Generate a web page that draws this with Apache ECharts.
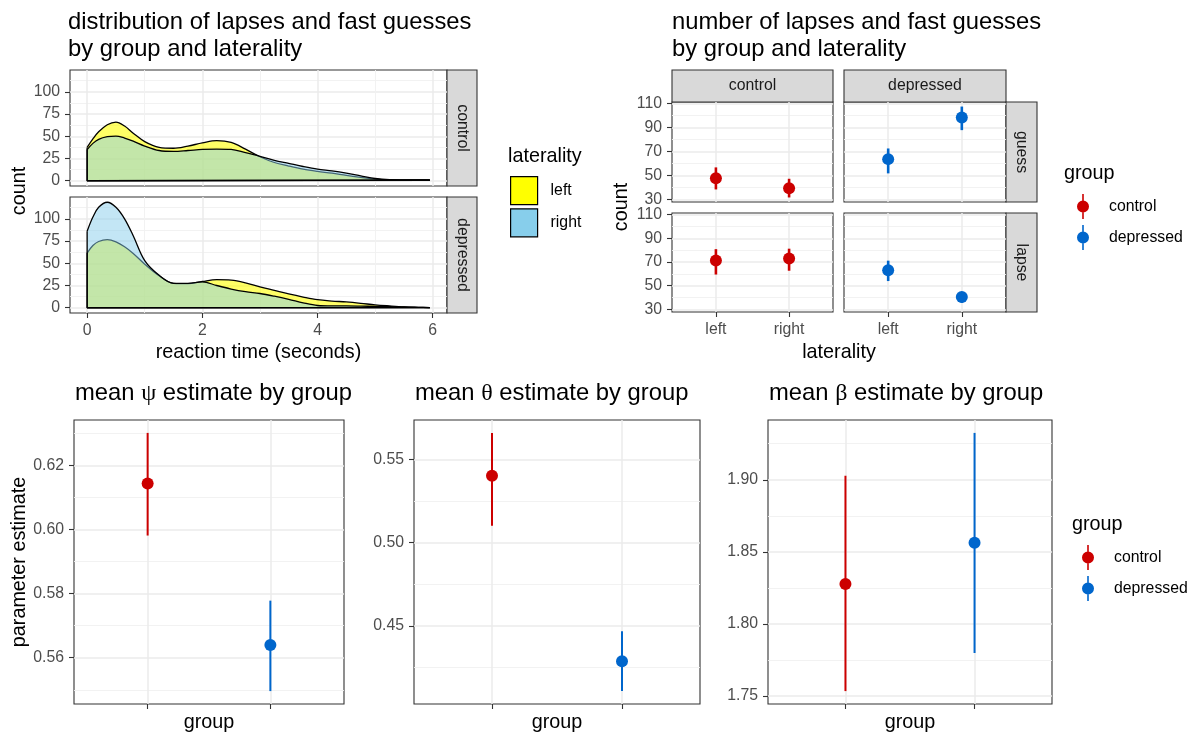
<!DOCTYPE html>
<html>
<head>
<meta charset="utf-8">
<script src="https://cdn.jsdelivr.net/npm/echarts@6/dist/echarts.min.js"></script>
<style>
  html, body { margin: 0; padding: 0; background: #ffffff; }
  #chart { width: 1192px; height: 736px; }
</style>
</head>
<body>
<div id="chart"></div>
<script>
// ---------- data ----------
const groups = ['control', 'depressed'];
const laterality = ['left', 'right'];

// kernel density estimates (count scale) of reaction time, seconds
const rtSeconds = [0, 0.1, 0.2, 0.35, 0.5, 0.65, 0.8, 1.0, 1.25, 1.5, 1.75, 2.0, 2.25, 2.5,
                   2.75, 3.0, 3.25, 3.5, 3.75, 4.0, 4.25, 4.5, 4.75, 5.0, 5.25, 5.5, 5.75, 5.95];
const densControlLeft   = [37.5, 47, 55, 63, 66, 61.5, 53.5, 44, 37.5, 36.5, 39, 42.5, 45, 43,
                           35.5, 27, 20.5, 16.5, 13, 10.5, 8.5, 6, 3.8, 1.8, 0.9, 0.7, 0.6, 0.5];
const densControlRight  = [35, 42, 46.5, 49.5, 50.2, 48, 44.5, 39, 34, 33, 34, 35.2, 35.6, 35.2,
                           31.5, 27.5, 23, 19.5, 16, 13, 11, 8.5, 5.5, 2.5, 1.2, 1, 0.9, 0.8];
const densDepressedLeft = [61.5, 70, 74.5, 76.5, 74, 68.5, 61, 49, 36, 27.5, 27, 29.5, 31.5, 31,
                           28, 23.5, 19.5, 15.5, 12, 9, 7.5, 6.5, 5, 3.2, 2, 1, 0.5, 0.2];
const densDepressedRight= [86, 102, 113, 118.6, 113, 100, 81, 53, 36.5, 27.5, 27.5, 29, 25, 21,
                           18, 16, 13, 9.5, 5.5, 2.5, 2, 2, 1.8, 1.5, 1.2, 0.8, 0.4, 0.2];

// number of lapses / fast guesses by laterality (left, right): estimate, lower, upper
const guessControlEst   = [47.7, 39.2];
const guessControlLo    = [38.3, 31.6];
const guessControlHi    = [56.7, 47.2];
const guessDepressedEst = [63.6, 98.3];
const guessDepressedLo  = [51.7, 87.8];
const guessDepressedHi  = [72.5, 107.5];
const lapseControlEst   = [71.3, 72.9];
const lapseControlLo    = [59.4, 62.6];
const lapseControlHi    = [80.8, 81.2];
const lapseDepressedEst = [63.1, 40.5];
const lapseDepressedLo  = [53.9, 35.5];
const lapseDepressedHi  = [71.1, 44.2];

// parameter estimates by group (control, depressed)
const psiEst   = [0.6143, 0.5640];
const psiLo    = [0.5981, 0.5496];
const psiHi    = [0.6301, 0.5778];
const thetaEst = [0.5402, 0.4288];
const thetaLo  = [0.5102, 0.4108];
const thetaHi  = [0.5660, 0.4468];
const betaEst  = [1.8277, 1.8564];
const betaLo   = [1.7535, 1.7799];
const betaHi   = [1.9028, 1.9325];

// axis breaks
const rtTicks     = [0, 2, 4, 6];
const densTicks   = [0, 25, 50, 75, 100];
const countTicks  = [30, 50, 70, 90, 110];
const psiTicks    = [0.56, 0.58, 0.60, 0.62];
const thetaTicks  = [0.45, 0.50, 0.55];
const betaTicks   = [1.75, 1.80, 1.85, 1.90];

// ---------- helpers ----------
const FONT = '"Liberation Sans", Arial, Helvetica, sans-serif';
const RED = '#CC0000';
const BLUE = '#0066CC';
const GROUP_COLORS = [RED, BLUE];
const SIZE_TITLE = 23.8, SIZE_AXIS_TITLE = 19.8, SIZE_TEXT = 15.8;

function expandRange(lo, hi) {
  const pad = (hi - lo) * 0.05;
  return [lo - pad, hi + pad];
}
function minorBreaks(ticks) {
  const step = ticks[1] - ticks[0];
  const out = [];
  for (let v = ticks[0] - step / 2; v <= ticks[ticks.length - 1] + step; v += step) {
    out.push(+v.toFixed(6));
  }
  return out;
}
const DISCRETE = [0.4, 2.6];

const grids = [], xAxes = [], yAxes = [], series = [];

function majorAxis(gi, range, ticks, showLabels, showTicks, fmt) {
  return {
    type: 'value', gridIndex: gi, min: range[0], max: range[1],
    axisLine: { show: false, onZero: false },
    axisTick: { show: showTicks, customValues: ticks, length: 5,
                lineStyle: { color: '#333333', width: 1.1 } },
    axisLabel: { show: showLabels, customValues: ticks, formatter: fmt, margin: 10,
                 color: '#4D4D4D', fontSize: SIZE_TEXT, fontFamily: FONT },
    splitLine: { show: true, lineStyle: { color: '#EBEBEB', width: 1.5 } },
    minorSplitLine: { show: false }
  };
}
function minorAxis(gi, range, ticks) {
  return {
    type: 'value', gridIndex: gi, min: range[0], max: range[1],
    axisLine: { show: false, onZero: false },
    axisTick: { show: false, customValues: ticks },
    axisLabel: { show: false, customValues: ticks },
    splitLine: { show: ticks.length > 0, lineStyle: { color: '#F0F0F0', width: 0.9 } }
  };
}

function addPanel(rect, x, y) {
  const gi = grids.length;
  grids.push({
    left: rect[0], top: rect[1], width: rect[2], height: rect[3],
    show: true, backgroundColor: '#ffffff', borderColor: '#333333', borderWidth: 1.1,
    containLabel: false, outerBoundsMode: 'none'
  });
  const xi = xAxes.length;
  xAxes.push(majorAxis(gi, x.range, x.ticks, x.labels, x.tickMarks, x.fmt));
  xAxes.push(minorAxis(gi, x.range, x.minor));
  const yi = yAxes.length;
  yAxes.push(majorAxis(gi, y.range, y.ticks, y.labels, y.tickMarks, y.fmt));
  yAxes.push(minorAxis(gi, y.range, y.minor));
  return { xi, yi };
}

function densitySeries(name, ax, ys, fill, z) {
  return {
    type: 'line', name, xAxisIndex: ax.xi, yAxisIndex: ax.yi, z,
    data: rtSeconds.map((x, i) => [x, ys[i]]),
    smooth: 0.35, symbol: 'none', silent: true,
    lineStyle: { color: '#000000', width: 1.3 },
    itemStyle: { color: fill },
    areaStyle: { color: fill, opacity: 1 }
  };
}
// closing edges of a density polygon: right end, baseline, left end
function outlineSeries(ax, ys, z) {
  const last = rtSeconds.length - 1;
  return {
    type: 'line', xAxisIndex: ax.xi, yAxisIndex: ax.yi, z, silent: true,
    data: [[rtSeconds[last], ys[last]], [rtSeconds[last], 0], [rtSeconds[0], 0], [rtSeconds[0], ys[0]]],
    symbol: 'none', lineStyle: { color: '#000000', width: 1.3 }
  };
}

// vertical interval plus dot for each category position (1, 2, ...)
function pointRange(name, ax, positions, est, lo, hi, color, barWidth, dotSize) {
  series.push({
    type: 'custom', name, xAxisIndex: ax.xi, yAxisIndex: ax.yi, z: 3, silent: true,
    data: positions.map((p, i) => [p, lo[i], hi[i]]),
    encode: { x: 0, y: [1, 2] },
    itemStyle: { color, opacity: 1 },
    renderItem: (params, api) => {
      const a = api.coord([api.value(0), api.value(1)]);
      const b = api.coord([api.value(0), api.value(2)]);
      return { type: 'line', shape: { x1: a[0], y1: a[1], x2: b[0], y2: b[1] },
               style: { stroke: color, lineWidth: barWidth } };
    }
  });
  series.push({
    type: 'scatter', name, xAxisIndex: ax.xi, yAxisIndex: ax.yi, z: 4, silent: true,
    data: positions.map((p, i) => [p, est[i]]),
    symbol: 'circle', symbolSize: dotSize,
    itemStyle: { color, opacity: 1 }
  });
}

// ---------- distribution panels ----------
const densMax = Math.max(...densControlLeft, ...densControlRight, ...densDepressedLeft, ...densDepressedRight);
const densY = { range: expandRange(0, densMax), ticks: densTicks, minor: minorBreaks(densTicks),
                labels: true, tickMarks: true, fmt: v => String(Math.round(v)) };
const rtX = (labels) => ({ range: expandRange(rtSeconds[0], rtSeconds[rtSeconds.length - 1]),
                           ticks: rtTicks, minor: minorBreaks(rtTicks).filter(v => v > 0 && v < 6),
                           labels, tickMarks: labels, fmt: v => String(Math.round(v)) });

const axCtl = addPanel([70, 70, 377, 116], rtX(false), densY);
const axDep = addPanel([70, 197, 377, 116], rtX(true), densY);
const FILL_LEFT = 'rgba(255,255,0,0.6)';
const FILL_RIGHT = 'rgba(135,206,235,0.5)';
series.push(densitySeries('left', axCtl, densControlLeft, FILL_LEFT, 2));
series.push(densitySeries('right', axCtl, densControlRight, FILL_RIGHT, 3));
series.push(outlineSeries(axCtl, densControlLeft, 5));
series.push(outlineSeries(axCtl, densControlRight, 5));
series.push(densitySeries('left', axDep, densDepressedLeft, FILL_LEFT, 2));
series.push(densitySeries('right', axDep, densDepressedRight, FILL_RIGHT, 3));
series.push(outlineSeries(axDep, densDepressedLeft, 5));
series.push(outlineSeries(axDep, densDepressedRight, 5));

// ---------- count panels ----------
const allCounts = [].concat(guessControlLo, guessControlHi, guessDepressedLo, guessDepressedHi,
                            lapseControlLo, lapseControlHi, lapseDepressedLo, lapseDepressedHi);
const countRange = expandRange(Math.min(...allCounts), Math.max(...allCounts));
const countY = (labels) => ({ range: countRange, ticks: countTicks, minor: minorBreaks(countTicks),
                              labels, tickMarks: labels, fmt: v => String(Math.round(v)) });
const latX = (labels) => ({ range: DISCRETE, ticks: [1, 2], minor: [], labels, tickMarks: labels,
                            fmt: v => laterality[Math.round(v) - 1] });
const latPos = laterality.map((_, i) => i + 1);

const axGC = addPanel([672, 102, 161, 100], latX(false), countY(true));
const axGD = addPanel([844, 102, 162, 100], latX(false), countY(false));
const axLC = addPanel([672, 213, 161, 99], latX(true), countY(true));
const axLD = addPanel([844, 213, 162, 99], latX(true), countY(false));
pointRange('control', axGC, latPos, guessControlEst, guessControlLo, guessControlHi, RED, 2.6, 12);
pointRange('depressed', axGD, latPos, guessDepressedEst, guessDepressedLo, guessDepressedHi, BLUE, 2.6, 12);
pointRange('control', axLC, latPos, lapseControlEst, lapseControlLo, lapseControlHi, RED, 2.6, 12);
pointRange('depressed', axLD, latPos, lapseDepressedEst, lapseDepressedLo, lapseDepressedHi, BLUE, 2.6, 12);

// ---------- parameter panels ----------
const groupX = { range: DISCRETE, ticks: [1, 2], minor: [], labels: false, tickMarks: true,
                 fmt: v => groups[Math.round(v) - 1] };
function paramPanel(rect, est, lo, hi, ticks) {
  const ax = addPanel(rect, groupX, {
    range: expandRange(Math.min(...lo), Math.max(...hi)), ticks, minor: minorBreaks(ticks),
    labels: true, tickMarks: true, fmt: v => v.toFixed(2)
  });
  groups.forEach((g, i) => {
    pointRange(g, ax, [i + 1], [est[i]], [lo[i]], [hi[i]], GROUP_COLORS[i], 2, 12);
  });
}
paramPanel([74, 420, 270, 284], psiEst, psiLo, psiHi, psiTicks);
paramPanel([414, 420, 286, 284], thetaEst, thetaLo, thetaHi, thetaTicks);
paramPanel([768, 420, 284, 284], betaEst, betaLo, betaHi, betaTicks);

// ---------- titles, strips, axis titles ----------
const titleStyle = { fontFamily: FONT, fontSize: SIZE_TITLE, fontWeight: 'normal', color: '#000000', lineHeight: 27,
                     rich: { g: { fontFamily: '"Liberation Serif", "DejaVu Serif", serif', fontSize: 24,
                                  color: '#000000', lineHeight: 27 } } };
const titles = [
  { text: 'distribution of lapses and fast guesses\nby group and laterality', left: 68, top: 9 },
  { text: 'number of lapses and fast guesses\nby group and laterality', left: 672, top: 9 },
  { text: 'mean {g|ψ} estimate by group', left: 75, top: 380 },
  { text: 'mean {g|θ} estimate by group', left: 415, top: 380 },
  { text: 'mean {g|β} estimate by group', left: 769, top: 380 }
].map(t => Object.assign({ padding: 0, textStyle: titleStyle }, t));

function strip(x, y, w, h, label, vertical) {
  return [
    { type: 'rect', shape: { x, y, width: w, height: h }, silent: true,
      style: { fill: '#D9D9D9', stroke: '#333333', lineWidth: 1.1 } },
    { type: 'text', x: x + w / 2, y: y + h / 2, rotation: vertical ? -Math.PI / 2 : 0, silent: true,
      style: { text: label, font: SIZE_TEXT + 'px ' + FONT, fill: '#1A1A1A', align: 'center', verticalAlign: 'middle' } }
  ];
}
function label(text, x, y, rotate) {
  return { type: 'text', x, y, rotation: rotate ? Math.PI / 2 : 0, silent: true,
           style: { text, font: SIZE_AXIS_TITLE + 'px ' + FONT, fill: '#000000', align: 'center', verticalAlign: 'middle' } };
}
function leftLabel(text, x, y) {
  return { type: 'text', x, y, silent: true,
           style: { text, font: SIZE_AXIS_TITLE + 'px ' + FONT, fill: '#000000', align: 'left', verticalAlign: 'middle' } };
}

const graphics = [].concat(
  strip(447, 70, 30, 116, groups[0], true),
  strip(447, 197, 30, 116, groups[1], true),
  strip(672, 70, 161, 32, groups[0], false),
  strip(844, 70, 162, 32, groups[1], false),
  strip(1006, 102, 31, 100, 'guess', true),
  strip(1006, 213, 31, 99, 'lapse', true),
  [
    label('count', 20, 191, true),
    label('reaction time (seconds)', 258.5, 353, false),
    label('count', 622, 207, true),
    label('laterality', 839, 353, false),
    label('parameter estimate', 20, 562, true),
    label('group', 209, 723, false),
    label('group', 557, 723, false),
    label('group', 910, 723, false),
    leftLabel('laterality', 508, 157),
    leftLabel('group', 1064, 174),
    leftLabel('group', 1072, 525)
  ]
);

// point-and-range key glyph: vertical bar through a dot
const PR_ICON = 'path://M5.2,0H6.8V25H5.2Z M0,12.5A6,6 0 1,1 12,12.5A6,6 0 1,1 0,12.5Z';
const legendText = { fontFamily: FONT, fontSize: SIZE_TEXT, color: '#000000' };
const legends = [
  { orient: 'vertical', left: 510, top: 176, itemWidth: 27, itemHeight: 28, itemGap: 3,
    selectedMode: false, padding: 0,
    textStyle: Object.assign({ padding: [0, 0, 0, 8] }, legendText),
    data: [
      { name: laterality[0], icon: 'rect', itemStyle: { color: '#FFFF00', borderColor: '#000000', borderWidth: 1.2 } },
      { name: laterality[1], icon: 'rect', itemStyle: { color: '#87CEEB', borderColor: '#000000', borderWidth: 1.2 } }
    ] },
  { orient: 'vertical', left: 1077, top: 194, itemWidth: 12, itemHeight: 25, itemGap: 6,
    selectedMode: false, padding: 0,
    textStyle: Object.assign({ padding: [0, 0, 0, 15] }, legendText),
    data: groups.map((g, i) => ({ name: g, icon: PR_ICON, itemStyle: { color: GROUP_COLORS[i] } })) },
  { orient: 'vertical', left: 1082, top: 545, itemWidth: 12, itemHeight: 25, itemGap: 6,
    selectedMode: false, padding: 0,
    textStyle: Object.assign({ padding: [0, 0, 0, 15] }, legendText),
    data: groups.map((g, i) => ({ name: g, icon: PR_ICON, itemStyle: { color: GROUP_COLORS[i] } })) }
];

const chart = echarts.init(document.getElementById('chart'), null, { renderer: 'canvas' });
chart.setOption({
  backgroundColor: '#ffffff',
  animation: false,
  textStyle: { fontFamily: FONT },
  title: titles,
  legend: legends,
  grid: grids,
  xAxis: xAxes,
  yAxis: yAxes,
  series,
  graphic: { elements: graphics }
});
</script>
</body>
</html>
